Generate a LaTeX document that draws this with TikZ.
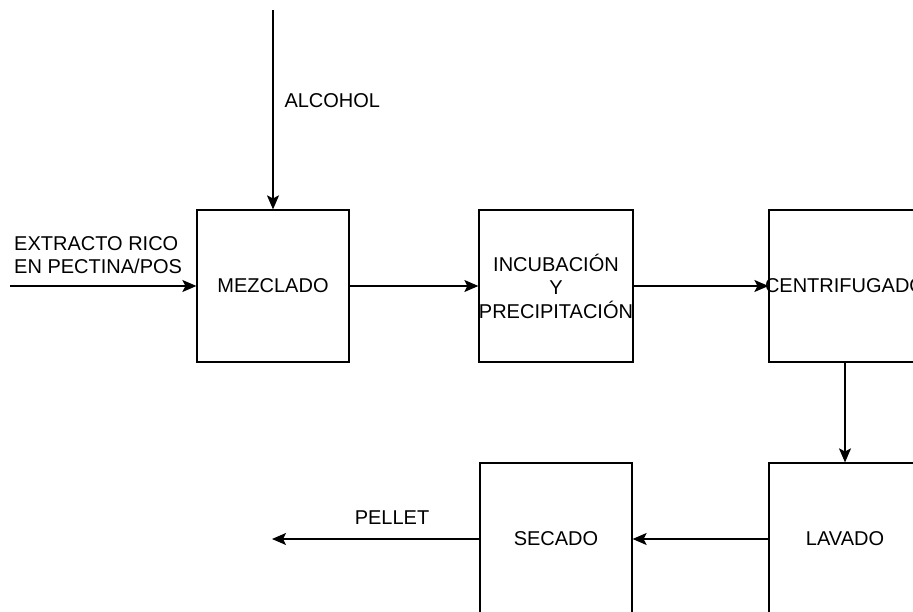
\documentclass[tikz,border=0pt]{standalone}
\usepackage{fontspec}
\setmainfont{Liberation Sans}
\usetikzlibrary{positioning,arrows.meta}
\tikzset{
  proceso/.style={draw,minimum size=152pt,inner sep=0pt,align=center,line width=1.2pt},
  flecha/.style={line width=1.2pt,-{Stealth[length=14pt,width=12pt,inset=3pt]}}
}

\begin{document}
\begin{tikzpicture}[x=1pt,y=-1pt,node distance=283pt,on grid,font=\fontsize{20}{23.5}\selectfont]
    \clip (0,0) rectangle (913,612);
   	\node[proceso](mezclado) at (273,286) {MEZCLADO};
   	\node[proceso](incubacion)[right=of mezclado]{INCUBACIÓN \\ Y\\ PRECIPITACIÓN};
   	\node[proceso](centrifugado)[right=289pt of incubacion]{\makebox[0pt][c]{CENTRIFUGADO}};
   	\node[proceso](lavado)[below=253pt of centrifugado]{LAVADO};
   	\node[proceso](secado)[left=289pt of lavado]{SECADO};
   	\coordinate (alcohol_in) at (273,10);
   	\coordinate (extracto_in) at (10,286);
   	\coordinate (pellet_out) at (272,539);
   	\node[anchor=west] (alcohol) at (281,101) {ALCOHOL};
   	\node[anchor=west,align=left,inner sep=2pt] (extracto) at (12,255) {EXTRACTO RICO\\EN PECTINA/POS};
   	\node (pellet) at (392,518) {PELLET};
    \draw[flecha] (alcohol_in) -- (mezclado);
    \draw[flecha] (extracto_in) -- (mezclado);
    \draw[flecha] (mezclado) -- (incubacion);
    \draw[flecha] (incubacion) -- (centrifugado);
    \draw[flecha] (centrifugado) -- (lavado);
    \draw[flecha] (lavado) -- (secado);
    \draw[flecha] (secado) -- (pellet_out);
\end{tikzpicture}
\end{document}
